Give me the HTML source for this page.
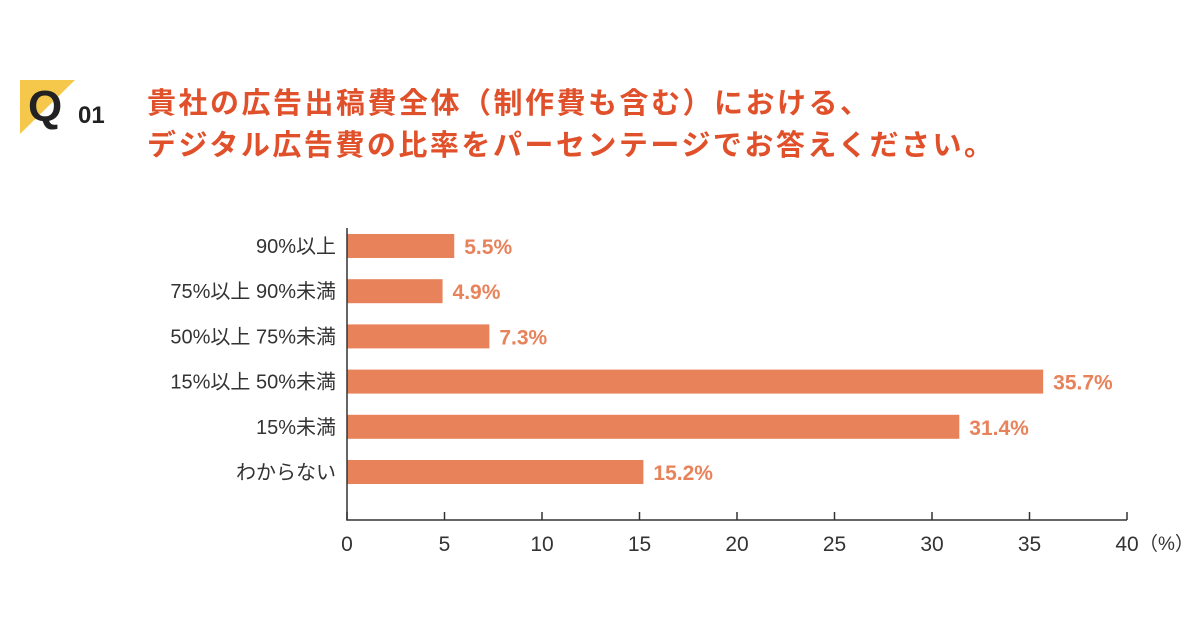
<!DOCTYPE html>
<html><head><meta charset="utf-8"><style>
body{margin:0;width:1200px;height:630px;background:#fff;overflow:hidden;font-family:"Liberation Sans","Noto Sans CJK JP",sans-serif}
.title{position:absolute;left:147px;font-size:29px;font-weight:bold;color:#e0502a;letter-spacing:2.5px;white-space:nowrap}
</style></head><body>
<div style="position:absolute;left:20px;top:80px;width:90px;height:56px">
<svg width="60" height="56"><polygon points="0,0 55,0 0,54" fill="#f5c84c"/></svg>
<div style="position:absolute;left:8px;top:2px;font-size:44px;font-weight:bold;color:#222">Q</div>
<div style="position:absolute;left:58px;top:22px;font-size:24px;font-weight:bold;color:#222">01</div>
</div>
<div class="title" style="top:80px">貴社の広告出稿費全体（制作費も含む）における、</div>
<div class="title" style="top:122px">デジタル広告費の比率をパーセンテージでお答えください。</div>
<svg id="chart" width="1200" height="630" style="position:absolute;left:0;top:0"></svg>
<script>
const categories=["90%以上","75%以上 90%未満","50%以上 75%未満","15%以上 50%未満","15%未満","わからない"];
const values=[5.5,4.9,7.3,35.7,31.4,15.2];
const valueLabels=["5.5%","4.9%","7.3%","35.7%","31.4%","15.2%"];
const ticks=[0,5,10,15,20,25,30,35,40];
const svg=document.getElementById('chart');const NS='http://www.w3.org/2000/svg';
const x0=347,x1=1127,xmax=40,yTop=228,yBot=520;
const xs=v=>x0+(x1-x0)*v/xmax;
const yc=i=>246+i*45.2;
function mk(t,a){const e=document.createElementNS(NS,t);for(const k in a)e.setAttribute(k,a[k]);svg.appendChild(e);return e;}
categories.forEach((c,i)=>{
 const r=mk('rect',{x:x0,y:yc(i)-12,width:xs(values[i])-x0,height:24,fill:'#e8825a'});
 
 
 const l=mk('text',{x:336,y:yc(i)+7,'text-anchor':'end','font-size':20,fill:'#333'});l.textContent=c;
 
 
 const v=mk('text',{x:xs(values[i])+10,y:yc(i)+8,'font-size':21,fill:'#e8825a','font-weight':'bold'});v.textContent=valueLabels[i];
 
 
});
const ax=mk('path',{d:`M${x0},${yTop}V${yBot}H${x1}`,stroke:'#333','stroke-width':1.5,fill:'none'});


ticks.forEach(t=>{
 const tk=mk('line',{x1:xs(t),x2:xs(t),y1:yBot,y2:yBot-8,stroke:'#333','stroke-width':1.5});
 
 
 const tl=mk('text',{x:xs(t),y:551,'text-anchor':'middle','font-size':21,fill:'#333'});tl.textContent=t;
 
 
});
const u=mk('text',{x:xs(40)+12,y:550,'font-size':19,fill:'#333'});u.textContent='（%）';


</script>
</body></html>
